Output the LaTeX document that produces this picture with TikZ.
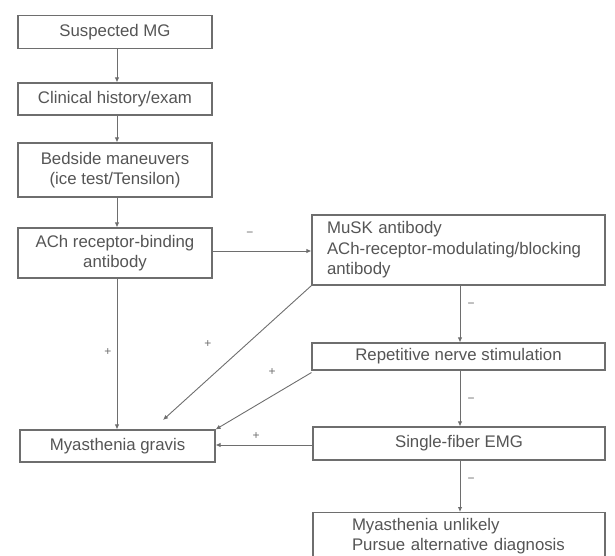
\documentclass[tikz,border=0pt]{standalone}
\usepackage{fontspec}
\setmainfont{Liberation Sans}
\usetikzlibrary{arrows.meta}
\definecolor{linec}{HTML}{6E6E6E}
\definecolor{textc}{HTML}{555555}
\begin{document}
\begin{tikzpicture}[x=1pt,y=-1pt,
  box/.style={draw=linec,line width=1.1pt,fill=white,inner sep=0pt,
    text=textc,font=\fontsize{16.8}{20.5}\selectfont,align=center},
  conn/.style={draw=linec,line width=0.9pt,-{Latex[length=5pt,width=4.5pt]}},
  sign/.style={text=linec,font=\fontsize{12}{14}\selectfont,inner sep=0pt}]
\useasboundingbox (0,0) rectangle (615,556);
\begin{scope}
\clip (0,0) rectangle (615,556);
\node[box,minimum width=194pt,minimum height=33pt] (s1) at (115,32) {Suspected MG};
\node[box,minimum width=194pt,minimum height=32pt] (s2) at (115,99) {Clinical history/exam};
\node[box,minimum width=194pt,minimum height=54pt] (s3) at (115,170) {Bedside maneuvers\\(ice test/Tensilon)};
\node[box,minimum width=194pt,minimum height=50pt] (s4) at (115,253) {ACh receptor-binding\\antibody};
\node[box,minimum width=195pt,minimum height=32pt] (mg) at (117.5,446) {Myasthenia gravis};
\node[box,minimum width=293pt,minimum height=70pt,align=left,text width=263pt] (musk) at (458.5,250) {MuSK antibody\\ACh-receptor-modulating/blocking\\antibody};
\node[box,minimum width=293pt,minimum height=27pt] (rns) at (458.5,356.5) {Repetitive nerve stimulation};
\node[box,minimum width=292pt,minimum height=33pt] (sf) at (459,443.5) {Single-fiber EMG};
\node[box,minimum width=292pt,minimum height=47pt,align=left,text width=214pt,anchor=north,font=\fontsize{16.8}{20}\selectfont] (mu) at (459,512) {Myasthenia unlikely\\Pursue alternative diagnosis};
\end{scope}
\coordinate (d1) at (163,420);
\draw[conn] (s1.south -| 117,0) -- (s2.north -| 117,0);
\draw[conn] (s2.south -| 117,0) -- (s3.north -| 117,0);
\draw[conn] (s3.south -| 117,0) -- (s4.north -| 117,0);
\draw[conn] (s4.south -| 117,0) -- (mg.north -| 117,0);
\draw[conn] (s4.east |- 0,251) -- (musk.west |- 0,251);
\draw[conn] (musk.south west) -- (d1);
\draw[conn] ([yshift=-2pt]rns.south west) -- (mg.north east);
\draw[conn] (sf.west |- 0,445) -- (mg.east |- 0,445);
\draw[conn] (musk.south -| 460,0) -- (rns.north -| 460,0);
\draw[conn] (rns.south -| 460,0) -- (sf.north -| 460,0);
\draw[conn] (sf.south -| 460,0) -- (mu.north -| 460,0);
\node[sign] (m1) at (250,234) {\textminus};
\node[sign] (p1) at (108,352) {+};
\node[sign] (p2) at (208,344) {+};
\node[sign] (p3) at (272,372) {+};
\node[sign] (p4) at (256,436) {+};
\node[sign] (m2) at (471,305) {\textminus};
\node[sign] (m3) at (471,400) {\textminus};
\node[sign] (m4) at (471,480) {\textminus};
\end{tikzpicture}
\end{document}
